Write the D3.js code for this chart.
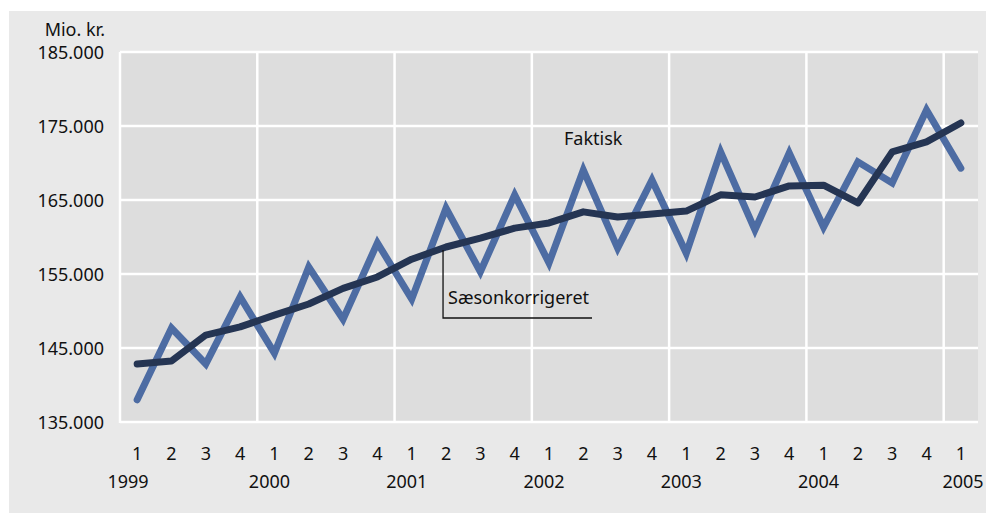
<!DOCTYPE html>
<html>
<head>
<meta charset="utf-8">
<script src="https://cdn.jsdelivr.net/npm/d3@7"></script>
<style>
  html, body { margin: 0; padding: 0; background: #ffffff; }
  svg { display: block; }
  text { font-family: "Noto Sans", "Open Sans", sans-serif; fill: #111; }
</style>
</head>
<body>
<svg id="chart" width="986" height="513"></svg>
<script>
const quarters = ["1","2","3","4","1","2","3","4","1","2","3","4","1","2","3","4","1","2","3","4","1","2","3","4","1"];
const years = ["1999","2000","2001","2002","2003","2004","2005"];
const yearStartIndex = [0, 4, 8, 12, 16, 20, 24];
const faktisk = [138000,147700,142850,151900,144300,155950,148900,159200,151600,163900,155300,165700,156500,169050,158500,167700,157800,171500,160950,171350,161350,170150,167300,177150,169300];
const saeson = [142850,143250,146750,147850,149450,150950,153050,154600,157000,158650,159850,161200,161900,163400,162700,163100,163500,165700,165400,166900,167000,164600,171500,172850,175400];
const yTicks = [135000,145000,155000,165000,175000,185000];
const yTickLabels = ["135.000","145.000","155.000","165.000","175.000","185.000"];
const unitLabel = "Mio. kr.";
const labelFaktisk = "Faktisk";
const labelSaeson = "Sæsonkorrigeret";

const FS = "18px";
const svg = d3.select("#chart");
const plot = {left: 120, right: 978, top: 52, bottom: 422};

svg.append("rect").attr("x", 9).attr("y", 11).attr("width", 977).attr("height", 502).attr("fill", "#e9e9e9");
svg.append("rect").attr("x", plot.left).attr("y", plot.top).attr("width", plot.right - plot.left).attr("height", plot.bottom - plot.top).attr("fill", "#dddddd");

const idx = d3.range(quarters.length);
const x = d3.scaleBand().domain(idx).range([plot.left, plot.right]).paddingInner(0).paddingOuter(0);
const y = d3.scaleLinear().domain([135000, 185000]).range([plot.bottom, plot.top]);
const cx = i => x(i) + x.bandwidth() / 2;

// horizontal gridlines
svg.append("g").selectAll("line").data(yTicks).join("line")
  .attr("x1", plot.left).attr("x2", plot.right)
  .attr("y1", d => y(d)).attr("y2", d => y(d))
  .attr("stroke", "#ffffff").attr("stroke-width", 2.5);

// vertical year gridlines
svg.append("g").selectAll("line").data(yearStartIndex.slice(1)).join("line")
  .attr("x1", d => x(d)).attr("x2", d => x(d))
  .attr("y1", plot.top).attr("y2", plot.bottom)
  .attr("stroke", "#ffffff").attr("stroke-width", 2.5);

// left edge line
svg.append("line").attr("x1", plot.left).attr("x2", plot.left).attr("y1", plot.top).attr("y2", plot.bottom + 1)
  .attr("stroke", "#ffffff").attr("stroke-width", 2.5);

// y axis labels
const yAxis = d3.axisLeft(y).tickValues(yTicks).tickFormat((d, i) => yTickLabels[i]).tickSize(0).tickPadding(16);
const gy = svg.append("g").attr("transform", `translate(${plot.left},0)`).call(yAxis);
gy.select(".domain").remove();
gy.selectAll("text").style("font-family", "'Noto Sans', sans-serif").style("font-size", FS).attr("fill", "#111").attr("dy", "0.35em");

svg.append("text").attr("x", 105).attr("y", 36).attr("text-anchor", "end")
  .style("font-size", FS).text(unitLabel);

// x axis quarter labels
const xAxis = d3.axisBottom(x).tickFormat(i => quarters[i]).tickSize(0).tickPadding(25);
const gx = svg.append("g").attr("transform", `translate(0,${plot.bottom})`).call(xAxis);
gx.select(".domain").remove();
gx.selectAll("text").style("font-family", "'Noto Sans', sans-serif").style("font-size", FS).attr("fill", "#111");

// year labels
const yearX = [128, null, null, null, null, null, 963];
svg.append("g").selectAll("text").data(years).join("text")
  .attr("x", (d, i) => yearX[i] !== null ? yearX[i] : cx(yearStartIndex[i]) - 5)
  .attr("y", 488).attr("text-anchor", "middle")
  .style("font-size", FS).text(d => d);

// lines
const line = d3.line().x((d, i) => cx(i)).y(d => y(d));
svg.append("path").datum(faktisk).attr("d", line).attr("fill", "none")
  .attr("stroke", "#4d6ca3").attr("stroke-width", 7).attr("stroke-linejoin", "miter").attr("stroke-linecap", "round");
svg.append("path").datum(saeson).attr("d", line).attr("fill", "none")
  .attr("stroke", "#253553").attr("stroke-width", 7).attr("stroke-linejoin", "round").attr("stroke-linecap", "round");

// annotations
svg.append("text").attr("x", 564).attr("y", 145).style("font-size", FS).text(labelFaktisk);
const ax = cx(9) - 3;
svg.append("path")
  .attr("d", `M${ax},${y(saeson[9]) + 3} L${ax},318 L592,318`)
  .attr("fill", "none").attr("stroke", "#111").attr("stroke-width", 1.3);
svg.append("text").attr("x", 448).attr("y", 304).style("font-size", FS).text(labelSaeson);
</script>
</body>
</html>
